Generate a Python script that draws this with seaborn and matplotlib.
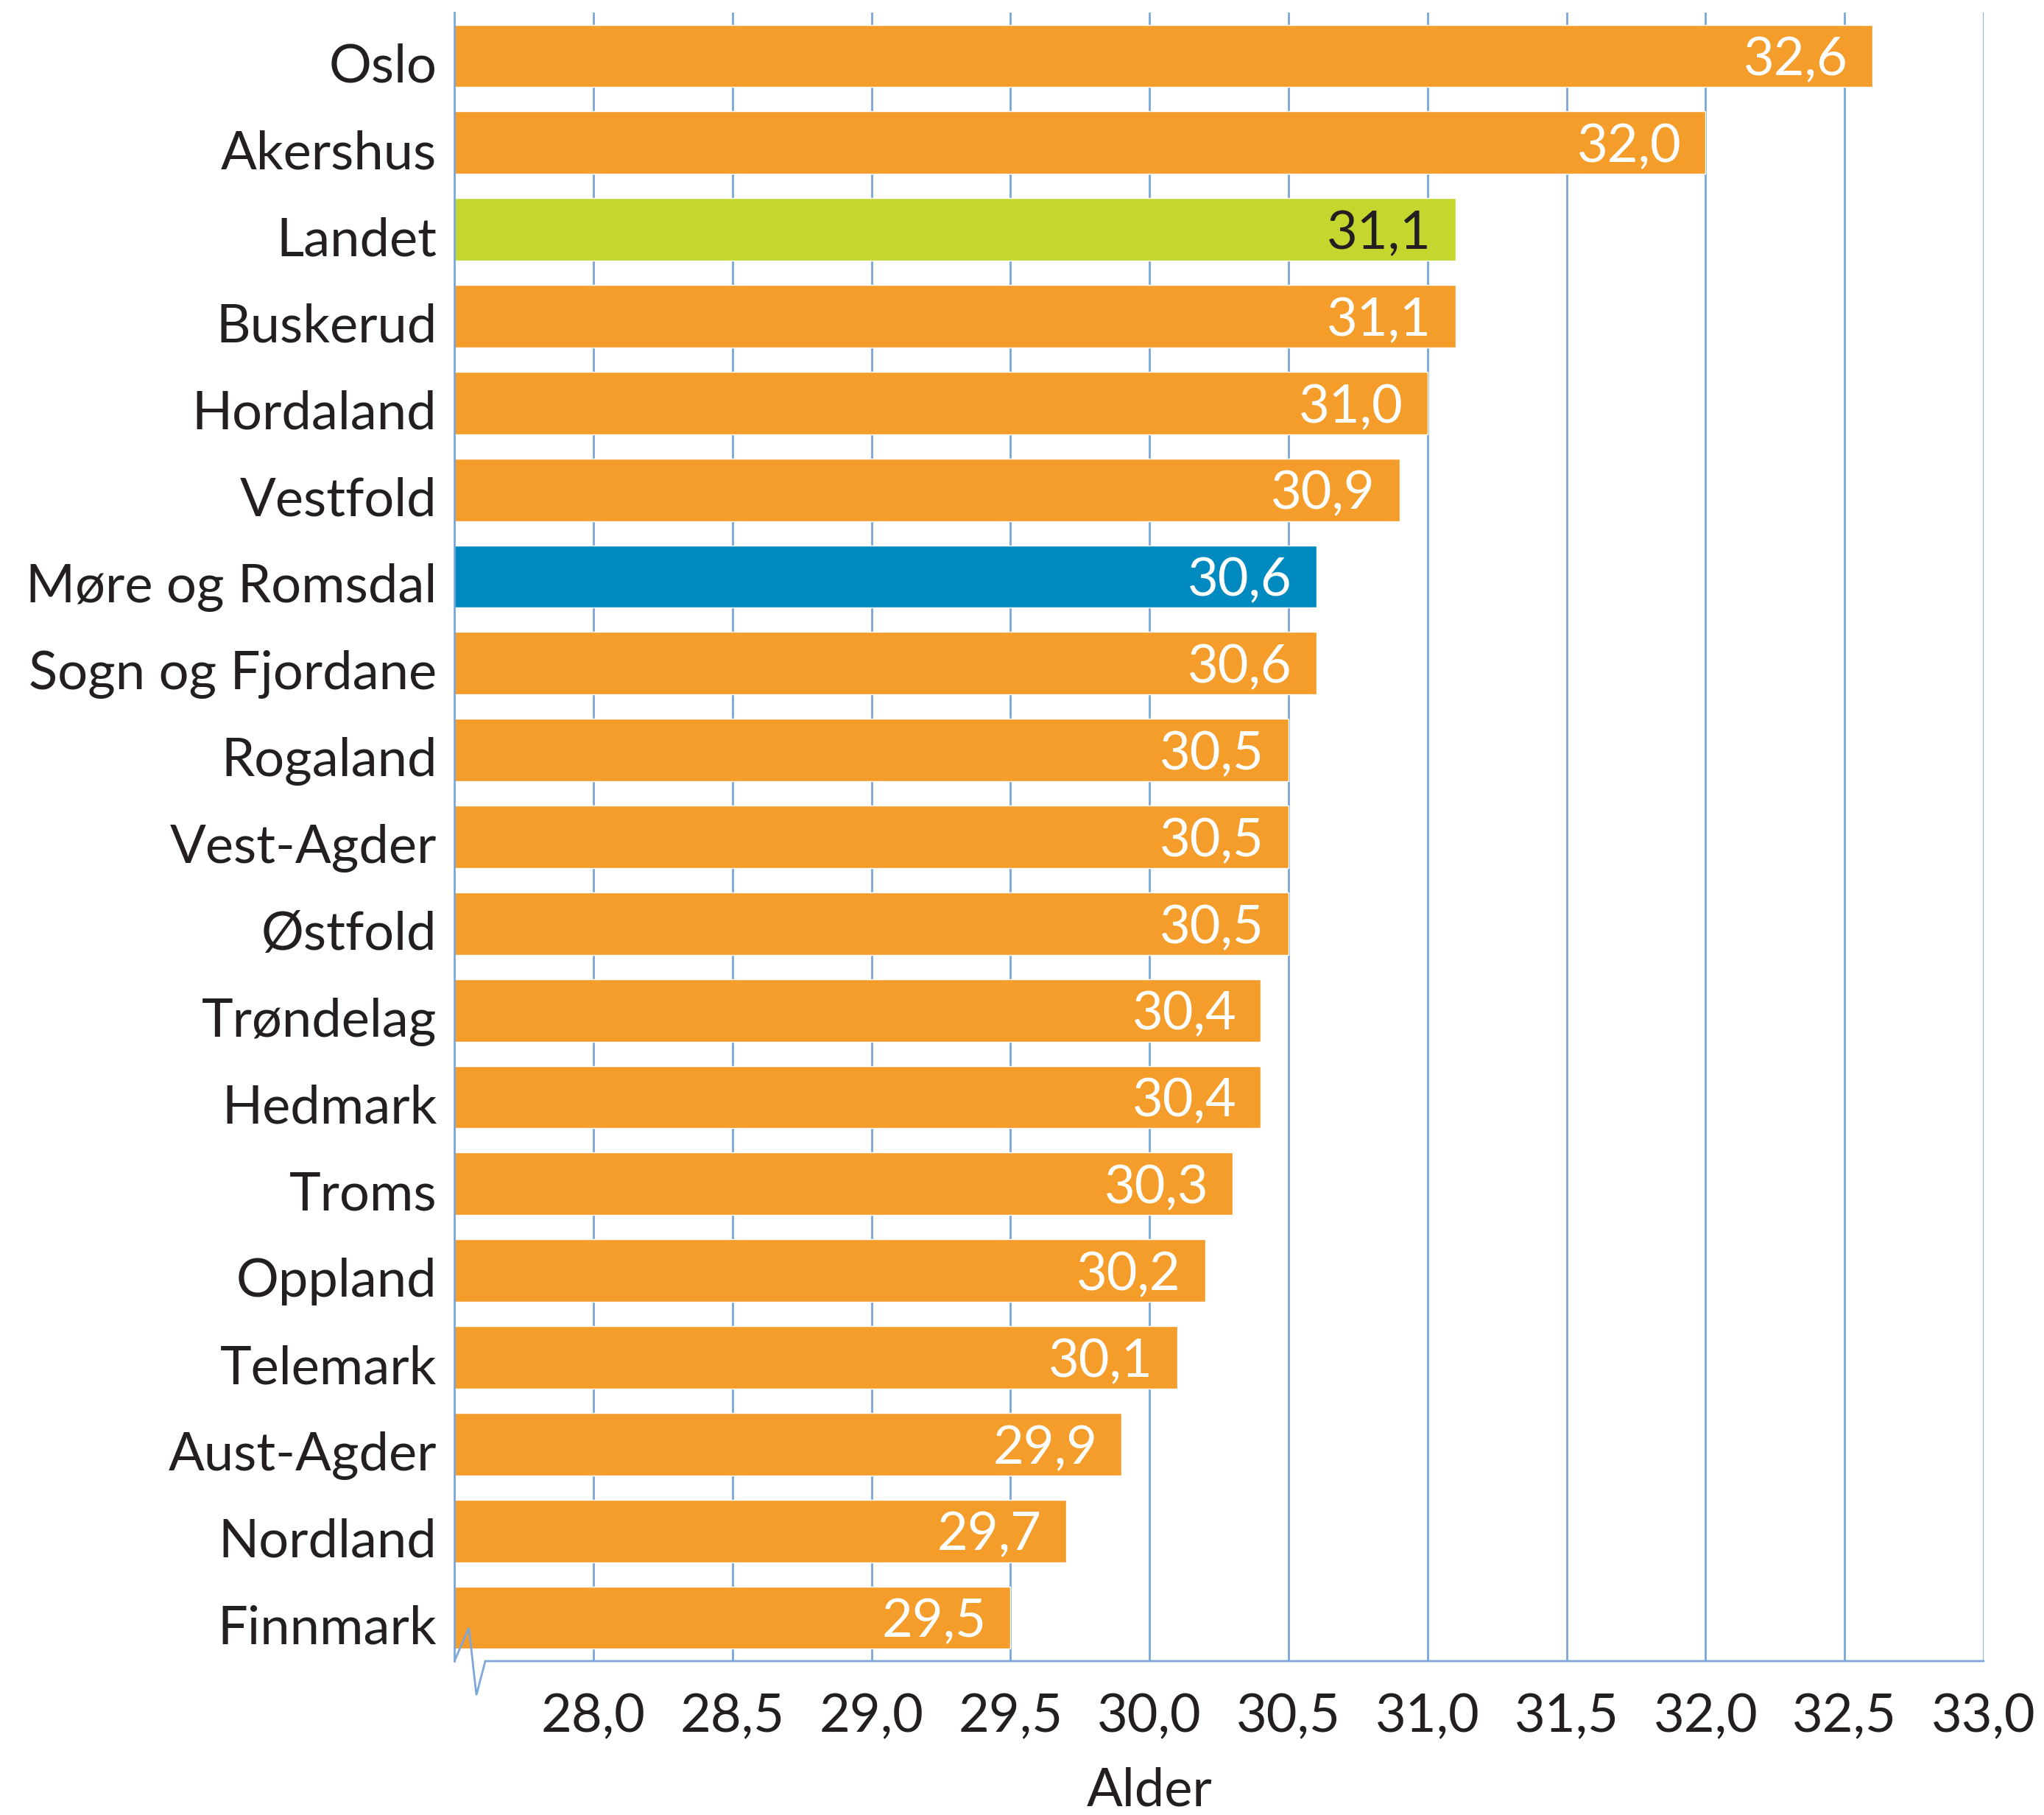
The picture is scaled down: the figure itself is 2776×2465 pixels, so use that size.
import matplotlib
matplotlib.use("Agg")
import matplotlib.pyplot as plt
import matplotlib.transforms as mtransforms
import seaborn as sns

# Gjennomsnittsalder ved første fødsel, per fylke
fylker = ["Oslo", "Akershus", "Landet", "Buskerud", "Hordaland", "Vestfold",
          "Møre og Romsdal", "Sogn og Fjordane", "Rogaland", "Vest-Agder",
          "Østfold", "Trøndelag", "Hedmark", "Troms", "Oppland", "Telemark",
          "Aust-Agder", "Nordland", "Finnmark"]
alder = [32.6, 32.0, 31.1, 31.1, 31.0, 30.9, 30.6, 30.6, 30.5, 30.5,
         30.5, 30.4, 30.4, 30.3, 30.2, 30.1, 29.9, 29.7, 29.5]
xticks = [28.0, 28.5, 29.0, 29.5, 30.0, 30.5, 31.0, 31.5, 32.0, 32.5, 33.0]

ORANGE = "#F59D2A"
GRONN = "#C5D72E"
BLA = "#008ABF"
GRID = "#7BA7D9"
TEKST = "#231F20"

farger = {f: ORANGE for f in fylker}
farger["Landet"] = GRONN
farger["Møre og Romsdal"] = BLA

sns.set_style("white")
plt.rcParams["font.family"] = ["Lato", "DejaVu Sans"]

fig = plt.figure(figsize=(27.76, 24.65), dpi=100)
ax = fig.add_axes([0.2223, 0.0848, 0.7482, 0.9083])

sns.barplot(x=alder, y=fylker, hue=fylker, palette=farger, legend=False,
            orient="h", width=0.72, saturation=1, ax=ax)

ax.set_xlim(27.5, 33.0)
ax.set_ylim(len(fylker) - 0.5, -0.5)
ax.set_xticks(xticks)
ax.set_xticklabels([f"{v:.1f}".replace(".", ",") for v in xticks])

# gridlinjer bak søylene
ax.set_axisbelow(True)
ax.xaxis.grid(True, color=GRID, linewidth=2.0)
ax.yaxis.grid(False)

for side in ["top", "right", "bottom"]:
    ax.spines[side].set_visible(False)
ax.spines["left"].set_color(GRID)
ax.spines["left"].set_linewidth(2.0)

ax.tick_params(axis="x", length=0, pad=31, labelsize=52, labelcolor=TEKST)
ax.tick_params(axis="y", length=0, pad=17, labelsize=52, labelcolor=TEKST)

# fylkesnavnene står litt lavere enn midten av søylen
ned = mtransforms.ScaledTranslation(0, -9 / 100, fig.dpi_scale_trans)
for lab in ax.get_yticklabels():
    lab.set_transform(lab.get_transform() + ned)

ax.set_xlabel("Alder", fontsize=52, color=TEKST, va="top")
ax.xaxis.set_label_coords((30.0 - 27.5) / 5.5, -0.064)
ax.set_ylabel("")

# verdier inne i søylene
off = mtransforms.offset_copy(ax.transData, fig=fig, x=-33, y=0, units="dots")
for i, (f, v) in enumerate(zip(fylker, alder)):
    farge = TEKST if f == "Landet" else "white"
    ax.text(v, i, f"{v:.1f}".replace(".", ","), transform=off, ha="right",
            va="center_baseline", fontsize=52, color=farge)

# brudd i x-aksen nede til venstre + bunnlinje
bx = [0.0, 0.0095, 0.0144, 0.0202, 1.0]
by = [0.0, 0.0201, -0.0206, 0.0, 0.0]
ax.plot(bx, by, transform=ax.transAxes, color=GRID, linewidth=2.0,
        clip_on=False, solid_joinstyle="miter")

fig.savefig("out.png", dpi=100)
